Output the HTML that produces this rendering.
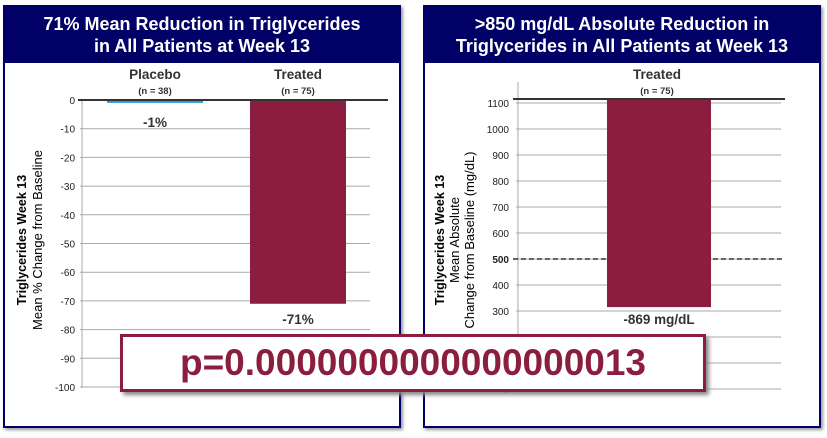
<!DOCTYPE html>
<html><head><meta charset="utf-8"><style>
body{margin:0;width:827px;height:438px;background:#fff;font-family:"Liberation Sans",Arial,sans-serif;overflow:hidden;position:relative}
.panel{position:absolute;top:5px;height:419px;border:2px solid #000066;box-shadow:2px 2px 3px #999;background:#fff}
.hdr{position:absolute;left:0;top:0;right:0;height:56px;background:#000066;color:#fff;font-weight:bold;font-size:18px;line-height:22px;text-align:center;padding-top:6px;box-sizing:border-box}
svg{position:absolute;left:0;top:0}
.pbox{position:absolute;left:120px;top:334px;width:580px;height:52px;border:3px solid #8B1E3F;background:#fff;box-shadow:3px 3px 4px #888;color:#8B1E3F;font-weight:bold;font-size:37px;line-height:52px;text-align:center}
</style></head><body>
<div class="panel" style="left:3px;width:394px"><div class="hdr">71% Mean Reduction in Triglycerides<br>in All Patients at Week 13</div></div>
<div class="panel" style="left:423px;width:394px"><div class="hdr">&gt;850 mg/dL Absolute Reduction in<br>Triglycerides in All Patients at Week 13</div></div>
<svg id="c" width="827" height="438" font-family="Liberation Sans, Arial, sans-serif"></svg>
<div class="pbox">p=0.0000000000000000013</div>
<script>
const leftTicks=[0,-10,-20,-30,-40,-50,-60,-70,-80,-90,-100];
const leftCats=["Placebo","Treated"];
const leftN=["(n = 38)","(n = 75)"];
const leftVals=[-1,-71];
const leftLabels=["-1%","-71%"];
const rightTicks=[1100,1000,900,800,700,600,500,400,300,200,100,0];
const rightCats=["Treated"];
const rightN=["(n = 75)"];
const rightTop=[1115];
const rightBottom=[315];
const rightLabels=["-869 mg/dL"];
const rightRef=500;
const svg=document.getElementById('c');const NS='http://www.w3.org/2000/svg';
function mk(t,a,txt){const e=document.createElementNS(NS,t);for(const k in a)e.setAttribute(k,a[k]);if(txt!=null)e.textContent=txt;svg.appendChild(e);return e;}
const yL=v=>100+(0-v)*2.87;
leftTicks.forEach(t=>{const g=mk('line',{x1:80,x2:370,y1:yL(t),y2:yL(t),stroke:'#aaa','stroke-width':1});
const l=mk('text',{x:75,y:yL(t)+4,'text-anchor':'end','font-size':10,fill:'#222'},t);});
mk('line',{x1:82,x2:82,y1:100,y2:388,stroke:'#aaa'});
const cxL=[155,298];
leftVals.forEach((v,i)=>{const col=i==0?'#1a9fd6':'#8B1E3F';const h=Math.max(yL(v)-100,2);
const b=mk('rect',{x:cxL[i]-48,y:100,width:96,height:h,fill:col});
const t=mk('text',{x:cxL[i],y:yL(v)+(i==0?24:20),'text-anchor':'middle','font-size':13.5,'font-weight':'bold',fill:'#333'},leftLabels[i]);
const c=mk('text',{x:cxL[i],y:79,'text-anchor':'middle','font-size':13.5,'font-weight':'bold',fill:'#333'},leftCats[i]);
const n=mk('text',{x:cxL[i],y:94,'text-anchor':'middle','font-size':9.5,'font-weight':'bold',fill:'#333'},leftN[i]);});
mk('line',{x1:78,x2:388,y1:100,y2:100,stroke:'#333','stroke-width':2});
const a1=mk('text',{transform:'translate(26,240) rotate(-90)','text-anchor':'middle','font-size':12.5,'font-weight':'bold'},'Triglycerides Week 13');
const a2=mk('text',{transform:'translate(42,240) rotate(-90)','text-anchor':'middle','font-size':13}, 'Mean % Change from Baseline');
const yR=v=>103+(1100-v)*0.26;
rightTicks.forEach(t=>{const g=mk('line',{x1:516,x2:781,y1:yR(t),y2:yR(t),stroke:'#aaa'});
const l=mk('text',{x:509,y:yR(t)+4,'text-anchor':'end','font-size':10,'font-weight':t==rightRef?'bold':'normal',fill:'#222'},t);});
mk('line',{x1:518,x2:518,y1:82,y2:390,stroke:'#aaa'});
const rl=mk('line',{x1:513,x2:785,y1:yR(rightRef),y2:yR(rightRef),stroke:'#333','stroke-width':1.5,'stroke-dasharray':'5,3'});
rightTop.forEach((v,i)=>{const cx=659;const b=mk('rect',{x:cx-52,y:yR(v),width:104,height:yR(rightBottom[i])-yR(v),fill:'#8B1E3F'});
const t=mk('text',{x:cx,y:yR(rightBottom[i])+17,'text-anchor':'middle','font-size':13.5,'font-weight':'bold',fill:'#333'},rightLabels[i]);
const c=mk('text',{x:657,y:79,'text-anchor':'middle','font-size':13.5,'font-weight':'bold',fill:'#333'},rightCats[i]);
const n=mk('text',{x:657,y:94,'text-anchor':'middle','font-size':9.5,'font-weight':'bold',fill:'#333'},rightN[i]);});
mk('line',{x1:513,x2:785,y1:99,y2:99,stroke:'#333','stroke-width':2});
const b1=mk('text',{transform:'translate(444,240) rotate(-90)','text-anchor':'middle','font-size':12.5,'font-weight':'bold'},'Triglycerides Week 13');
const b2=mk('text',{transform:'translate(459,240) rotate(-90)','text-anchor':'middle','font-size':13},'Mean Absolute');
const b3=mk('text',{transform:'translate(474,240) rotate(-90)','text-anchor':'middle','font-size':13},'Change  from Baseline (mg/dL)');
</script>
</body></html>
